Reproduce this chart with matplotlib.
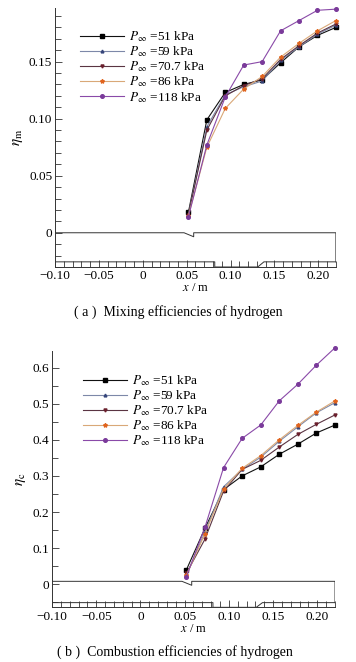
import matplotlib
matplotlib.use("Agg")
import matplotlib.pyplot as plt
from matplotlib.ticker import MultipleLocator

plt.rcParams['font.family'] = ['Liberation Serif', 'DejaVu Serif']
plt.rcParams['mathtext.fontset'] = 'stix'

# streamwise stations (m)
x_pos = [0.052, 0.073, 0.094, 0.115, 0.136, 0.157, 0.178, 0.199, 0.22]

labels = [r"$P_\infty$ =51 kPa", r"$P_\infty$ =59 kPa", r"$P_\infty$ =70.7 kPa",
          r"$P_\infty$ =86 kPa", r"$P_\infty$ =118 kPa"]

# (a) mixing efficiency
eta_m_51 = [0.018, 0.099, 0.123, 0.130, 0.134, 0.149, 0.163, 0.173, 0.180]
eta_m_59 = [0.016, 0.093, 0.121, 0.128, 0.133, 0.151, 0.163, 0.174, 0.182]
eta_m_707 = [0.016, 0.090, 0.120, 0.129, 0.135, 0.152, 0.164, 0.175, 0.183]
eta_m_86 = [0.015, 0.075, 0.109, 0.126, 0.137, 0.154, 0.166, 0.177, 0.186]
eta_m_118 = [0.014, 0.077, 0.119, 0.147, 0.150, 0.177, 0.186, 0.195, 0.196]

# (b) combustion efficiency
eta_c_51 = [0.040, 0.155, 0.262, 0.300, 0.325, 0.360, 0.388, 0.419, 0.441]
eta_c_59 = [0.025, 0.145, 0.270, 0.318, 0.352, 0.396, 0.436, 0.475, 0.503]
eta_c_707 = [0.030, 0.125, 0.258, 0.318, 0.343, 0.380, 0.415, 0.443, 0.469]
eta_c_86 = [0.025, 0.140, 0.264, 0.321, 0.356, 0.400, 0.440, 0.477, 0.508]
eta_c_118 = [0.021, 0.158, 0.323, 0.404, 0.441, 0.508, 0.554, 0.607, 0.655]

xticks = [-0.10, -0.05, 0, 0.05, 0.10, 0.15, 0.20]
xtick_labels = ["\u22120.10", "\u22120.05", "0", "0.05", "0.10", "0.15", "0.20"]
yticks_a = [0, 0.05, 0.10, 0.15]
ytick_labels_a = ["0", "0.05", "0.10", "0.15"]
yticks_b = [0, 0.1, 0.2, 0.3, 0.4, 0.5, 0.6]
ytick_labels_b = ["0", "0.1", "0.2", "0.3", "0.4", "0.5", "0.6"]

# combustor outline (m): upper wall with injector step, lower wall with cavity
wall_top_x = [-0.10, 0.047, 0.058, 0.058, 0.22, 0.22]
wall_low_x = [-0.10, 0.082, 0.082, 0.131, 0.138, 0.22]

styles = [
    dict(color="#111111", marker="s", mfc="#000000", mec="#000000", ms=2.2),
    dict(color="#7d88a8", marker="^", mfc="#35457a", mec="#35457a", ms=2.0),
    dict(color="#5a3442", marker="v", mfc="#6a1f2c", mec="#6a1f2c", ms=2.2),
    dict(color="#d9a878", marker="*", mfc="#e0641e", mec="#e0641e", ms=3.0),
    dict(color="#8a4aa8", marker="o", mfc="#7a3a9a", mec="#7a3a9a", ms=2.6),
]

fig = plt.figure(figsize=(3.56, 6.62), dpi=100)
ax1 = fig.add_axes([0.1545, 0.5967, 0.789, 0.3912])
ax2 = fig.add_axes([0.146, 0.0826, 0.795, 0.3877])


def draw_panel(ax, series, ylim, yticks, ylabels, yminor, ylab, wall_y, low_y, bottom,
               leg_anchor):
    for ys, lab, st in zip(series, labels, styles):
        ax.plot(x_pos, ys, lw=0.8, label=lab, clip_on=False, **st)
    top_y = [wall_y, wall_y, wall_y - 0.0035 * (ylim[1] - ylim[0]) / 0.227, wall_y, wall_y, low_y]
    ax.plot(wall_top_x, top_y, color="#333333", lw=0.7)
    ax.plot(wall_low_x, [low_y, low_y, bottom, bottom, low_y, low_y], color="#333333", lw=0.7)
    ax.set_xlim(-0.10, 0.22)
    ax.set_ylim(*ylim)
    ax.set_xticks(xticks)
    ax.set_xticklabels(xtick_labels)
    ax.set_yticks(yticks)
    ax.set_yticklabels(ylabels)
    ax.xaxis.set_minor_locator(MultipleLocator(0.01))
    ax.yaxis.set_minor_locator(MultipleLocator(yminor))
    ax.tick_params(which="both", direction="in", labelsize=9.5, pad=2, width=0.6, color="#333333")
    ax.tick_params(axis="x", which="both", pad=2.5)
    ax.tick_params(which="major", length=5)
    ax.tick_params(which="minor", length=4)
    for s in ("top", "right"):
        ax.spines[s].set_visible(False)
    for s in ("left", "bottom"):
        ax.spines[s].set_linewidth(0.7)
        ax.spines[s].set_color("#333333")
    ax.set_xlabel(r"$x$ / m", fontsize=9, labelpad=0)
    ax.set_ylabel(ylab, fontsize=11, labelpad=3)
    ax.legend(loc="upper left", bbox_to_anchor=leg_anchor, frameon=False, fontsize=9.5,
              handlelength=3.3, handletextpad=0.4, labelspacing=0.02, borderpad=0,
              borderaxespad=0)


draw_panel(ax1, [eta_m_51, eta_m_59, eta_m_707, eta_m_86, eta_m_118],
           (-0.03, 0.197), yticks_a, ytick_labels_a, 0.01, r"$\eta_{\rm m}$",
           0.0, -0.0255, -0.03, (0.089, 0.917))
draw_panel(ax2, [eta_c_51, eta_c_59, eta_c_707, eta_c_86, eta_c_118],
           (-0.064, 0.647), yticks_b, ytick_labels_b, 0.05, r"$\eta_{\rm c}$",
           0.008, -0.051, -0.064, (0.11, 0.912))

fig.text(0.5, 1 - 312 / 662, "( a )  Mixing efficiencies of hydrogen", ha="center", va="center",
         fontsize=10)
fig.text(0.49, 1 - 652 / 662, "( b )  Combustion efficiencies of hydrogen", ha="center",
         va="center", fontsize=10)

fig.savefig("out.png", dpi=100)
